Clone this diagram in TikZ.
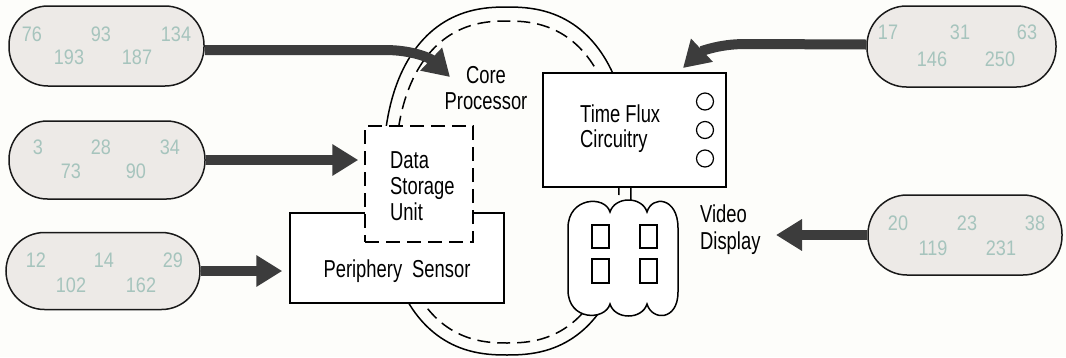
\documentclass[tikz,border=0pt]{standalone}
\usepackage{fontspec}
\setmainfont{Liberation Sans}[FakeStretch=0.75]
\newfontfamily\numfont{Liberation Sans}[FakeStretch=0.86]
\usetikzlibrary{arrows.meta}
\definecolor{pillfill}{HTML}{EDEAE7}
\definecolor{numcol}{HTML}{A6C4BD}
\definecolor{arrcol}{HTML}{3C3C3C}
\definecolor{bgcol}{HTML}{FDFDFA}
\begin{document}
\begin{tikzpicture}[x=1pt,y=-1pt,
  pill/.style={draw=black!90, line width=1.5pt, fill=pillfill, rounded corners=38.5pt, inner sep=0pt},
  num/.style={text=numcol, font=\numfont\fontsize{21}{21}\selectfont, inner sep=0pt},
  lab/.style={font=\fontsize{24.5}{26}\selectfont, inner sep=0pt},
  bigarrow/.style={draw=arrcol, line width=10pt, -{Triangle[length=26pt,width=30pt]}},
  boxsolid/.style={draw=black, line width=1.5pt, fill=white, inner sep=0pt},
  boxdash/.style={draw=black, line width=1.5pt, fill=white, inner sep=0pt, dash pattern=on 14pt off 7pt},
  knob/.style={draw=black, line width=1.2pt, circle, minimum size=17pt, inner sep=0pt},
  screen/.style={draw=black, line width=1.5pt, fill=white}
]
\useasboundingbox[fill=bgcol] (0,0) rectangle (1066,357);

% Core processor ring
\draw[line width=1.5pt] plot[domain=0:360, samples=181]
  ({507+124*cos(\x)*(abs(cos(\x))+0.00001)^(-0.1667)},
   {181+174*sin(\x)*(abs(sin(\x))+0.00001)^(-0.1667)}) -- cycle;
\draw[line width=1.5pt, dash pattern=on 13pt off 7pt] plot[domain=0:360, samples=181]
  ({507+112*cos(\x)*(abs(cos(\x))+0.00001)^(-0.1667)},
   {182+161*sin(\x)*(abs(sin(\x))+0.00001)^(-0.1667)}) -- cycle;

% boxes
\node[boxsolid, minimum width=214pt, minimum height=90pt] (ps) at (397,258) {};
\node[boxdash, minimum width=108pt, minimum height=116pt] (ds) at (419,184) {};
\node[boxsolid, minimum width=183pt, minimum height=114pt] (tf) at (634.5,130) {};
\node[knob] (k1) at (705,101.5) {};
\node[knob] (k2) at (705,130) {};
\node[knob] (k3) at (705,158.5) {};

% video display
\draw[screen] (568,290) -- (568,228)
  .. controls (568,197) and (605,195) .. (610,212)
  .. controls (615,196) and (642,196) .. (647,212)
  .. controls (652,195) and (678,197) .. (678,228)
  -- (678,292)
  .. controls (678,321) and (652,321) .. (647,304)
  .. controls (642,320) and (615,320) .. (610,304)
  .. controls (605,321) and (568,321) .. cycle;
\draw[line width=1.5pt] (592,225) rectangle (609,248);
\draw[line width=1.5pt] (640,225) rectangle (657,248);
\draw[line width=1.5pt] (592,259) rectangle (609,283);
\draw[line width=1.5pt] (640,259) rectangle (657,283);

% labels
\node[lab, align=center] (cp) at (486,88.5) {Core\\Processor};
\node[lab, align=left, anchor=west, font=\fontsize{24.5}{26}\selectfont] (dst) at (390,186) {Data\\Storage\\Unit};
\node[lab] (pst) at (397,271.4) {Periphery\hspace{10pt}Sensor};
\node[lab, align=left, anchor=west, font=\fontsize{24.5}{25}\selectfont] (tft) at (580,129) {Time Flux\\Circuitry};
\node[lab, align=left, anchor=west, font=\fontsize{24.5}{27}\selectfont] (vdt) at (700,230) {Video\\Display};

% pills
\node[pill, minimum width=195pt, minimum height=80pt, rounded corners=39pt] (p1) at (106.5,46) {};
\node[pill, minimum width=196pt, minimum height=78pt] (p2) at (107,160) {};
\node[pill, minimum width=194pt, minimum height=77pt] (p3) at (103,271) {};
\node[pill, minimum width=189pt, minimum height=81pt, rounded corners=39.5pt] (p4) at (961.5,46.5) {};
\node[pill, minimum width=194pt, minimum height=80pt, rounded corners=39pt] (p5) at (965,235) {};

% numbers
\node[num] (n11) at (32,34.5) {76};
\node[num] (n12) at (101,34.5) {93};
\node[num] (n13) at (176,34.5) {134};
\node[num] (n14) at (69,57) {193};
\node[num] (n15) at (137,57) {187};

\node[num] (n21) at (38,147) {3};
\node[num] (n22) at (101,147) {28};
\node[num] (n23) at (170,147) {34};
\node[num] (n24) at (71,171) {73};
\node[num] (n25) at (136,171) {90};

\node[num] (n31) at (36,260) {12};
\node[num] (n32) at (104,260) {14};
\node[num] (n33) at (173,260) {29};
\node[num] (n34) at (71,285) {102};
\node[num] (n35) at (141,285) {162};

\node[num] (n41) at (888,32.5) {17};
\node[num] (n42) at (960,32.5) {31};
\node[num] (n43) at (1027,32.5) {63};
\node[num] (n44) at (932,59.5) {146};
\node[num] (n45) at (1000,59.5) {250};

\node[num] (n51) at (898,223.5) {20};
\node[num] (n52) at (967,223.5) {23};
\node[num] (n53) at (1035,223.5) {38};
\node[num] (n54) at (933,248.5) {119};
\node[num] (n55) at (1001,248.5) {231};

% arrows
\coordinate (tip1) at (450,77);
\coordinate (tip4) at (683,68);
\coordinate (tip5) at (776,235);
\draw[bigarrow] ([yshift=-4pt]p1.east) -- (385,50) .. controls (412,50) and (430,58) .. (tip1);
\draw[bigarrow, shorten >=6pt] (p2.east) -- (p2.east -| ds.west);
\draw[bigarrow, shorten >=7pt] (p3.east) -- (p3.east -| ps.west);
\draw[bigarrow] ([yshift=2pt]p4.west) -- (745,44) .. controls (718,44) and (700,52) .. (tip4);
\draw[bigarrow] (p5.west) -- (tip5);
\end{tikzpicture}
\end{document}
